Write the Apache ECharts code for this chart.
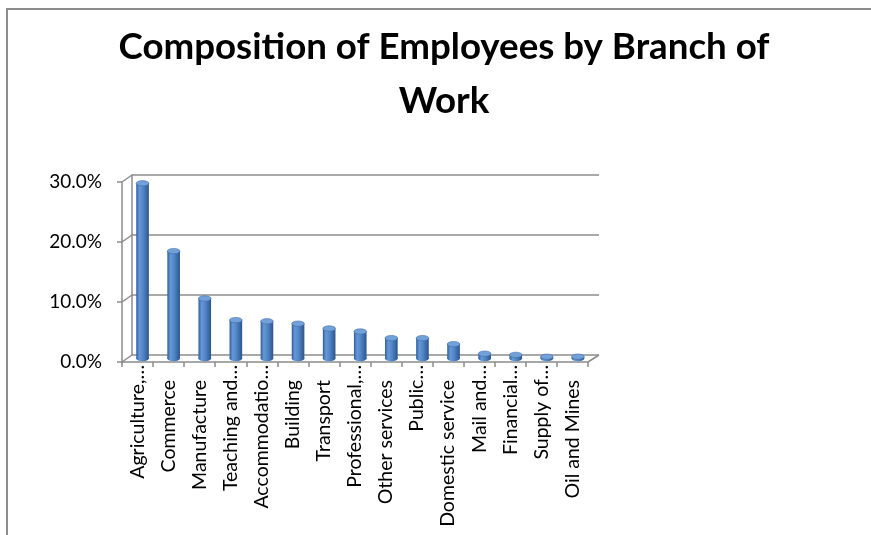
<!DOCTYPE html>
<html>
<head>
<meta charset="utf-8">
<script src="https://cdn.jsdelivr.net/npm/echarts@6/dist/echarts.min.js"></script>
<style>
html,body{margin:0;padding:0;background:#fff;}
#c{width:871px;height:535px;}
</style>
</head>
<body>
<div id="c"></div>
<script>
// ---- data ----
const categories = ['Agriculture,\u2026', 'Commerce', 'Manufacture', 'Teaching and\u2026', 'Accommodatio\u2026',
  'Building', 'Transport', 'Professional,\u2026', 'Other services', 'Public\u2026',
  'Domestic service', 'Mail and\u2026', 'Financial\u2026', 'Supply of\u2026', 'Oil and Mines'];
const shares = [29.2, 17.9, 10.0, 6.4, 6.2, 5.8, 5.0, 4.5, 3.4, 3.4, 2.4, 0.8, 0.6, 0.3, 0.3];
const yTicks = [0, 10, 20, 30];
const titleText = 'Composition of Employees by Branch of\nWork';

// ---- style ----
const FONT = 'Lato';
const LINE = '#8c8c8c';
const DEPTH_X = 10, DEPTH_Y = -7;

const chart = echarts.init(document.getElementById('c'), null, {renderer: 'canvas'});

const bodyGrad = new echarts.graphic.LinearGradient(0, 0, 1, 0, [
  {offset: 0, color: '#305d99'},
  {offset: 0.25, color: '#6698d8'},
  {offset: 0.55, color: '#5085c6'},
  {offset: 1, color: '#2c558c'}
]);

const yMin = yTicks[0], yMax = yTicks[yTicks.length - 1], yStep = yTicks[1] - yTicks[0];

chart.setOption({
  animation: false,
  backgroundColor: '#fff',
  title: {
    text: titleText,
    left: 444,
    textAlign: 'center',
    top: 20,
    padding: 0,
    textStyle: {fontFamily: FONT, fontWeight: 'bold', fontSize: 36.7, lineHeight: 54, color: '#000'}
  },
  graphic: [{
    type: 'rect', silent: true, z: -10,
    shape: {x: 7, y: 9, width: 900, height: 600},
    style: {fill: 'none', stroke: '#8c8c8c', lineWidth: 2}
  }],
  grid: [
    {left: 122, top: 182, width: 466, height: 180},     // front
    {left: 132, top: 175, width: 467, height: 180},     // back wall
    {left: 127, top: 178.5, width: 466.5, height: 180}  // mid depth (bars)
  ],
  xAxis: [
    {
      type: 'category', gridIndex: 0, data: categories,
      axisLine: {lineStyle: {color: LINE, width: 1.5}},
      axisTick: {show: true, length: 5, lineStyle: {color: LINE, width: 1.5}},
      axisLabel: {
        rotate: 90, margin: 3, interval: 0,
        formatter: function (v) {
          return v.endsWith('\u2026') ? '{e|' + v + '}' : '{n|' + v + '}';
        },
        rich: {
          e: {fontFamily: FONT, fontSize: 19.5, color: '#000'},
          n: {fontFamily: FONT, fontSize: 19.5, color: '#000', padding: [0, 15, 0, 0]}
        }
      }
    },
    {type: 'category', gridIndex: 1, data: categories, show: false},
    {type: 'category', gridIndex: 2, data: categories, show: false}
  ],
  yAxis: [
    {
      type: 'value', gridIndex: 0, min: yMin, max: yMax, interval: yStep,
      axisLine: {show: true, lineStyle: {color: LINE, width: 1.5}},
      axisTick: {show: true, length: 5, lineStyle: {color: LINE, width: 1.5}},
      splitLine: {show: false},
      axisLabel: {
        margin: 20, fontFamily: FONT, fontSize: 19, color: '#000',
        formatter: function (v) { return v.toFixed(1) + '%'; }
      }
    },
    {
      type: 'value', gridIndex: 1, min: yMin, max: yMax, interval: yStep,
      axisLine: {show: true, lineStyle: {color: LINE, width: 1.5}},
      axisTick: {show: false}, axisLabel: {show: false},
      splitLine: {show: true, lineStyle: {color: LINE, width: 1.5}}
    },
    {type: 'value', gridIndex: 2, min: yMin, max: yMax, interval: yStep, show: false, splitLine: {show: false}}
  ],
  series: [
    {
      // 3D frame connectors (front axis -> back wall)
      type: 'custom', xAxisIndex: 0, yAxisIndex: 0, silent: true, z: 1,
      data: yTicks.map(function (t) { return [0, t]; }),
      renderItem: function (params, api) {
        const p = api.coord([0, api.value(1)]);
        const w = api.size([1, 0])[0];
        const x0 = p[0] - w / 2;
        const children = [{
          type: 'line',
          shape: {x1: x0, y1: p[1], x2: x0 + DEPTH_X, y2: p[1] + DEPTH_Y},
          style: {stroke: LINE, lineWidth: 1.5}
        }];
        if (api.value(1) === yMin) {
          const pr = api.coord([categories.length - 1, yMin]);
          const xr = pr[0] + w / 2;
          children.push({
            type: 'line',
            shape: {x1: xr, y1: pr[1], x2: xr + DEPTH_X + 1, y2: pr[1] + DEPTH_Y},
            style: {stroke: LINE, lineWidth: 1.5}
          });
        }
        return {type: 'group', children: children};
      }
    },
    {
      // cylinders
      type: 'custom', xAxisIndex: 2, yAxisIndex: 2, z: 5,
      data: shares.map(function (v, i) { return [i, v]; }),
      encode: {x: 0, y: 1},
      renderItem: function (params, api) {
        const i = api.value(0), v = api.value(1);
        const top = api.coord([i, v]);
        const base = api.coord([i, 0]);
        const w = api.size([1, 0])[0];
        const r = w * 0.203;
        const ry = 2.7;
        const cx = top[0];
        return {
          type: 'group',
          children: [
            {
              type: 'circle', x: cx, y: base[1], scaleY: ry / r,
              shape: {cx: 0, cy: 0, r: r},
              style: {fill: bodyGrad}
            },
            {
              type: 'rect',
              shape: {x: cx - r, y: top[1], width: 2 * r, height: Math.max(0, base[1] - top[1])},
              style: {fill: bodyGrad}
            },
            {
              type: 'circle', x: cx, y: top[1], scaleY: ry / r,
              shape: {cx: 0, cy: 0, r: r},
              style: {fill: '#72a0d8', stroke: '#3d6ba8', lineWidth: 0.8}
            }
          ]
        };
      }
    }
  ]
});
</script>
</body>
</html>
